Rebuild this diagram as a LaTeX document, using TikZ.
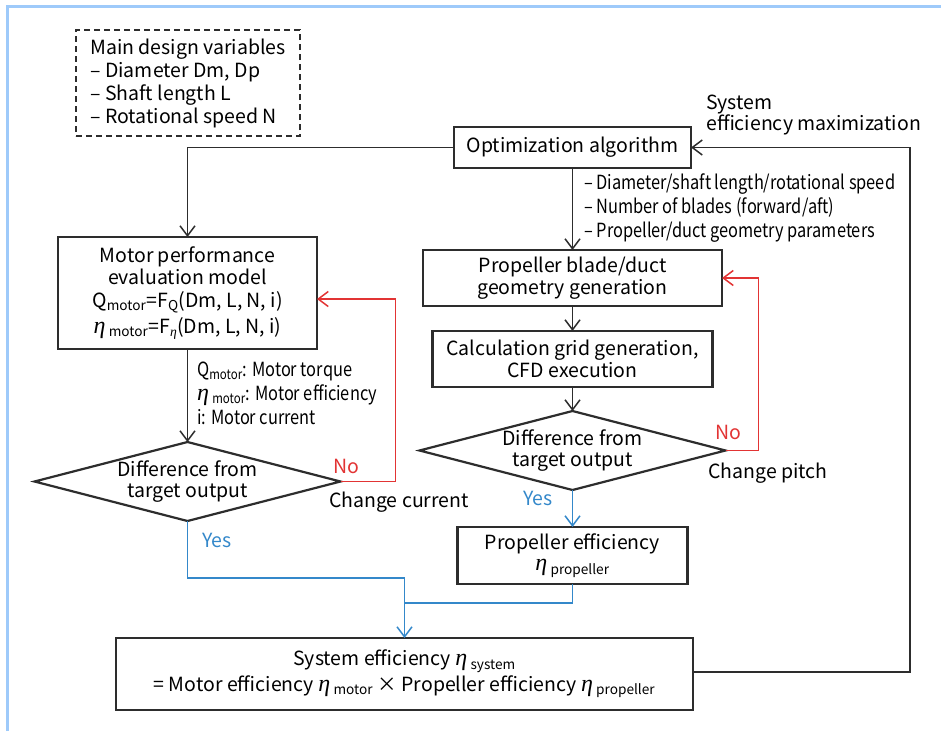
\documentclass[tikz,border=0pt]{standalone}
\usepackage{fontspec}
\setmainfont{Noto Sans CJK JP}
\newfontfamily\narrowfont[FakeStretch=0.84]{Noto Sans CJK JP}
\newfontfamily\greekfont{Liberation Serif}
\newcommand{\etaglyph}{{\greekfont\itshape\fontsize{24}{21}\selectfont η}}
\usepackage{tikz}
\usetikzlibrary{shapes.geometric, arrows.meta, positioning}
\definecolor{lineblack}{RGB}{45,45,45}
\definecolor{nored}{RGB}{226,52,52}
\definecolor{yesblue}{RGB}{52,136,202}
\definecolor{frameblue}{RGB}{158,202,250}
\tikzset{
    flowblock/.style={rectangle, draw=lineblack, fill=white, line width=2.2pt, inner sep=0pt, outer sep=0pt, align=center, font=\fontsize{19.5}{21.5}\selectfont},
    flowdiamond/.style={diamond, draw=lineblack, fill=white, line width=2.2pt, aspect=3.87, inner xsep=-12pt, inner ysep=-2pt, outer sep=0pt, minimum width=306pt, minimum height=79pt, align=center, font=\fontsize{19.5}{21.5}\selectfont},
    varsbox/.style={rectangle, draw=lineblack, dash pattern=on 6pt off 4pt, line width=1.6pt, minimum width=224pt, minimum height=106pt, inner sep=0pt, align=left, font=\fontsize{19.5}{23}\selectfont},
    flowarrow/.style={-{Straight Barb[length=10pt, width=15pt]}, draw=lineblack, line width=1.5pt},
    noarrow/.style={-{Straight Barb[length=10pt, width=15pt]}, draw=nored, line width=1.5pt},
    yesarrow/.style={-{Straight Barb[length=10pt, width=15pt]}, draw=yesblue, line width=1.5pt},
    yesline/.style={draw=yesblue, line width=1.5pt},
    flowannot/.style={align=left, inner sep=0pt, font=\narrowfont\fontsize{19.5}{24}\selectfont},
    flowlabel/.style={inner sep=0pt, align=left, font=\fontsize{19.5}{21.5}\selectfont, text=#1},
    flowlabel/.default=black
}

\begin{document}
\begin{tikzpicture}[x=1pt, y=-1pt]
\useasboundingbox (0,0) rectangle (941,731);
\draw[frameblue, line width=3pt] (7.5,731) -- (7.5,6.5) -- (941,6.5);

\node[varsbox] (vars) at (188,83) {Main design variables\\– Diameter Dm, Dp\\– Shaft length L\\– Rotational speed N};
\node[flowblock, minimum width=237pt, minimum height=41pt] (opt) at (572.5,147.5) {Optimization algorithm};
\node[flowblock, minimum width=299pt, minimum height=56pt, below=82pt of opt] (prop) {Propeller blade/duct\\geometry generation};
\node[flowblock, minimum width=280pt, minimum height=56pt, below=25pt of prop] (grid) {Calculation grid generation,\\CFD execution};
\node[flowdiamond, below=24pt of grid] (dp) {Difference from\\target output};
\node[flowblock, minimum width=230pt, minimum height=57pt, below=37pt of dp] (peff) {Propeller efficiency\\\etaglyph\,\textsubscript{propeller}};
\node[flowblock, minimum width=259pt, minimum height=112pt] (motor) at (187.5,293) {Motor performance\\evaluation model\\[2pt]Q\textsubscript{motor}=F\textsubscript{Q}(Dm, L, N, i)\\[3pt]\etaglyph\,\textsubscript{motor}=F\textsubscript{\greekfont\itshape η}(Dm, L, N, i)};
\node[flowdiamond, below=93pt of motor] (dm) {Difference from\\target output};
\node[flowblock, minimum width=577pt, minimum height=72pt] (sys) at (404.5,674) {System efficiency \etaglyph\,\textsubscript{system}\\[2pt]= Motor efficiency \etaglyph\,\textsubscript{motor} × Propeller efficiency \etaglyph\,\textsubscript{propeller}};

\node[flowannot, anchor=west] (optnote) at (584,208) {– Diameter/shaft length/rotational speed\\– Number of blades (forward/aft)\\– Propeller/duct geometry parameters};
\node[flowannot, anchor=west] (motornote) at (197,393) {Q\textsubscript{motor}: Motor torque\\\etaglyph\,\textsubscript{motor}: Motor efficiency\\i: Motor current};
\node[flowlabel, anchor=west] (goal) at (706,115) {System\\efficiency maximization};
\node[flowlabel=nored] (nom) at (346,466) {No};
\node[flowlabel=nored] (nop) at (728,432) {No};
\node[flowlabel] (chgcur) at (399,502) {Change current};
\node[flowlabel] (chgpit) at (768,473) {Change pitch};
\node[flowlabel=yesblue] (yesm) at (217,540) {Yes};
\node[flowlabel=yesblue] (yesp) at (538,498) {Yes};
\coordinate (merge) at (404.5,603);

\draw[flowarrow] (opt.west) -| (motor.north);
\draw[flowarrow] (opt) -- (prop);
\draw[flowarrow] (prop) -- (grid);
\draw[flowarrow] (grid) -- (dp);
\draw[flowarrow] (motor) -- (dm);
\draw[noarrow] (dm.east) -- ++(55,0) |- ([yshift=-6pt]motor.east);
\draw[noarrow] (dp.east) -- ++(33,0) |- (prop.east);
\draw[yesarrow] (dp) -- (peff);
\draw[yesarrow] (dm.south) -- ++(0,57) -| (sys.north);
\draw[yesline] (peff.south) |- (merge);
\draw[flowarrow] ([yshift=2pt]sys.east) -- ++(217,0) |- (opt.east);

\end{tikzpicture}
\end{document}
